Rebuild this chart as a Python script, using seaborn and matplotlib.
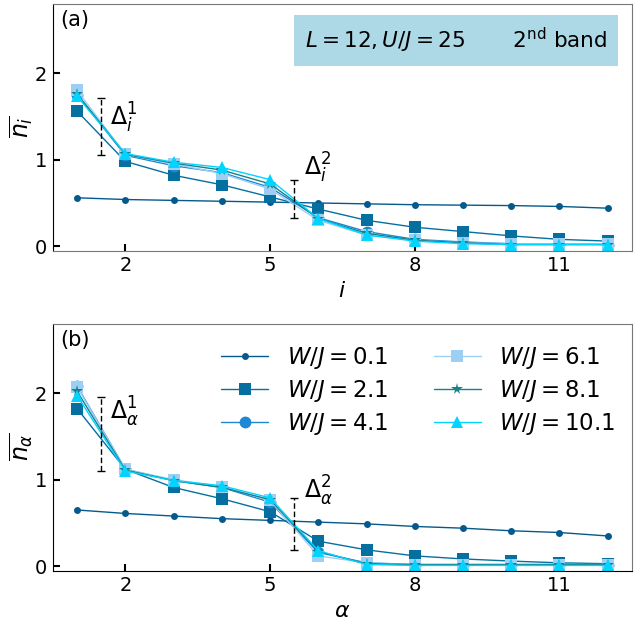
"""
Site occupations (a) and natural-orbital occupations (b) for the 2nd band.
"""

import matplotlib
matplotlib.use("Agg")
import matplotlib.pyplot as plt
import numpy as np
import pandas as pd
import seaborn as sns

sites = np.arange(1, 13)
disorder = ["0.1", "2.1", "4.1", "6.1", "8.1", "10.1"]

# panel (a): site-resolved occupations n_i
n_site = {
    "0.1": [0.56, 0.54, 0.53, 0.52, 0.51, 0.50, 0.49, 0.48, 0.475, 0.47, 0.46, 0.44],
    "2.1": [1.56, 0.98, 0.82, 0.71, 0.57, 0.43, 0.30, 0.22, 0.17, 0.12, 0.08, 0.06],
    "4.1": [1.75, 1.05, 0.93, 0.85, 0.68, 0.33, 0.17, 0.08, 0.05, 0.03, 0.03, 0.02],
    "6.1": [1.80, 1.06, 0.95, 0.84, 0.66, 0.30, 0.13, 0.07, 0.04, 0.03, 0.03, 0.03],
    "8.1": [1.76, 1.06, 0.96, 0.88, 0.72, 0.32, 0.15, 0.07, 0.04, 0.02, 0.02, 0.02],
    "10.1": [1.73, 1.07, 0.97, 0.91, 0.77, 0.32, 0.13, 0.06, 0.03, 0.02, 0.02, 0.02],
}

# panel (b): natural-orbital occupations n_alpha
n_orb = {
    "0.1": [0.65, 0.61, 0.58, 0.55, 0.53, 0.51, 0.49, 0.46, 0.44, 0.41, 0.39, 0.35],
    "2.1": [1.82, 1.12, 0.91, 0.78, 0.63, 0.29, 0.19, 0.12, 0.085, 0.06, 0.04, 0.03],
    "4.1": [2.08, 1.12, 0.99, 0.91, 0.74, 0.16, 0.04, 0.02, 0.02, 0.02, 0.02, 0.02],
    "6.1": [2.07, 1.12, 1.00, 0.92, 0.76, 0.12, 0.04, 0.02, 0.02, 0.02, 0.02, 0.02],
    "8.1": [2.02, 1.11, 0.99, 0.91, 0.77, 0.17, 0.03, 0.02, 0.02, 0.02, 0.02, 0.02],
    "10.1": [1.97, 1.10, 0.99, 0.93, 0.79, 0.18, 0.02, 0.01, 0.01, 0.01, 0.01, 0.01],
}

# gap markers: (x, low, high) and where their labels sit
gaps_a = [(1.5, 1.05, 1.71), (5.5, 0.33, 0.77)]
gaps_b = [(1.5, 1.10, 1.95), (5.5, 0.19, 0.79)]
gap_labels_a = [(1.68, 1.48), (5.7, 0.90)]
gap_labels_b = [(1.68, 1.78), (5.7, 0.87)]

COLORS = {
    "0.1": "#045a8d", "2.1": "#0570a0", "4.1": "#1e88d2",
    "6.1": "#9dcff5", "8.1": "#17808a", "10.1": "#00d4ff",
}
MARKERS = {"0.1": "o", "2.1": "s", "4.1": "o", "6.1": "s", "8.1": "*", "10.1": "^"}
MSIZE = {"0.1": 5, "2.1": 8.5, "4.1": 8.5, "6.1": 8.5, "8.1": 8.5, "10.1": 9}

sns.set_style("white")
plt.rcParams.update({
    "font.family": ["DejaVu Sans"],
    "mathtext.fontset": "dejavusans",
    "text.color": "black",
    "axes.labelcolor": "black",
    "xtick.color": "black",
    "ytick.color": "black",
    "xtick.direction": "in",
    "ytick.direction": "in",
    "xtick.bottom": True,
    "ytick.left": True,
})


def draw_panel(ax, data, gaps, gap_labels, sub, label):
    for w in disorder:
        df = pd.DataFrame({"x": sites, "y": data[w]})
        sns.lineplot(
            data=df, x="x", y="y", ax=ax, color=COLORS[w], lw=1,
            marker=MARKERS[w], markersize=MSIZE[w], markeredgecolor=COLORS[w],
            markeredgewidth=0, label=rf"$W/J = {w}$",
        )
    for k, ((x, lo, hi), (tx, ty)) in enumerate(zip(gaps, gap_labels)):
        mid = (lo + hi) / 2
        eb = ax.errorbar(x, mid, yerr=(hi - lo) / 2, fmt="none", ecolor="k",
                         elinewidth=1, capsize=3, capthick=1)
        eb[2][0].set_linestyle((0, (4, 2)))
        ax.text(tx, ty, rf"$\Delta_{{{sub}}}^{{{k + 1}}}$",
                fontsize=17, va="center", ha="left")
    ax.set_xlim(0.5, 12.5)
    ax.set_ylim(-0.05, 2.8)
    ax.set_xticks([2, 5, 8, 11])
    ax.set_yticks([0, 1, 2])
    ax.tick_params(labelsize=14, length=5, width=1.5, pad=4)
    ax.set_xlabel(rf"${sub}$", fontsize=16, labelpad=4)
    ax.set_ylabel(rf"$\overline{{n_{{{sub}}}}}$", fontsize=17, labelpad=0)
    ax.text(0.012, 0.975, label, transform=ax.transAxes, fontsize=15,
            va="top", ha="left")
    for s in ["top", "right", "bottom"]:
        ax.spines[s].set_color("#777777")
    ax.spines["left"].set_color("black")


fig = plt.figure(figsize=(6.34, 6.25), dpi=100)
ax_a = fig.add_axes([0.0836, 0.599, 0.913, 0.395])
ax_b = fig.add_axes([0.0836, 0.087, 0.913, 0.395])

draw_panel(ax_a, n_site, gaps_a, gap_labels_a, "i", "(a)")
draw_panel(ax_b, n_orb, gaps_b, gap_labels_b, r"\alpha", "(b)")
ax_b.spines["bottom"].set_color("black")

ax_a.get_legend().remove()
ax_a.text(0.435, 0.85, r"$L=12, U/J=25$       2$^{\rm nd}$ band",
          transform=ax_a.transAxes, fontsize=15.5, va="center", ha="left",
          bbox=dict(boxstyle="square,pad=0.5", fc="#add8e6", ec="none"))

ax_b.legend(ncol=2, frameon=False, loc="upper right", fontsize=16.5,
            handlelength=2.05, handletextpad=0.8, columnspacing=2.0,
            labelspacing=0.3, borderaxespad=0.2, bbox_to_anchor=(0.995, 0.97))

fig.savefig("out.png", dpi=100)
plt.close()
